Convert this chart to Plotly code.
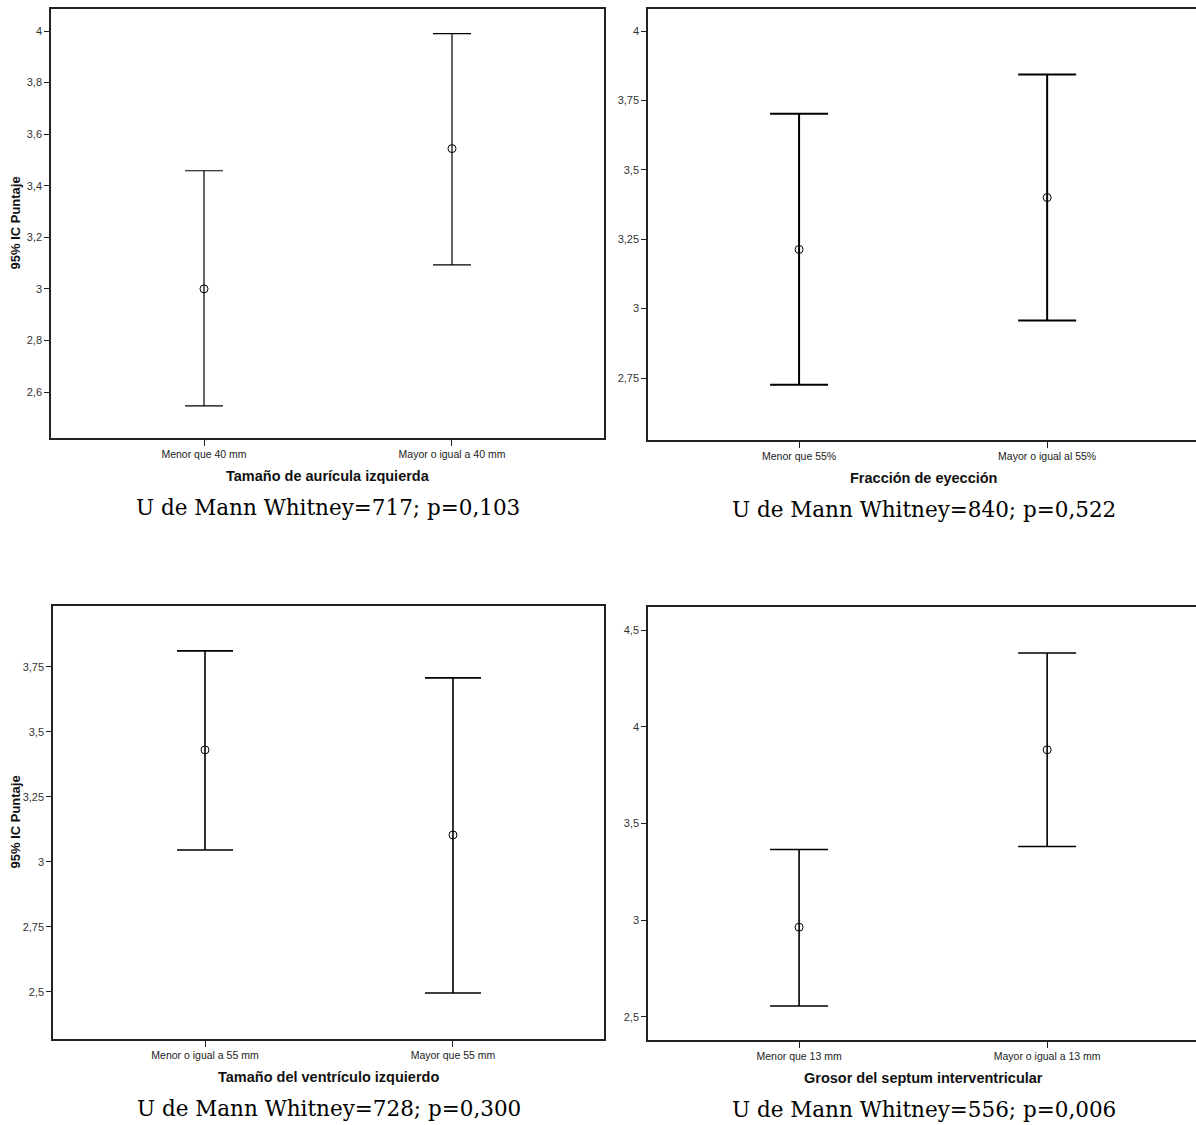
import plotly.graph_objects as go

# ---------------- data ----------------
cats_tl = ["Menor que 40 mm", "Mayor o igual a 40 mm"]
mean_tl = [3.000, 3.544]
upper_tl = [3.458, 3.990]
lower_tl = [2.546, 3.093]
ticks_tl = [2.6, 2.8, 3.0, 3.2, 3.4, 3.6, 3.8, 4.0]
ticklab_tl = ["2,6", "2,8", "3", "3,2", "3,4", "3,6", "3,8", "4"]

cats_tr = ["Menor que 55%", "Mayor o igual al 55%"]
mean_tr = [3.213, 3.400]
upper_tr = [3.702, 3.843]
lower_tr = [2.726, 2.957]
ticks_tr = [2.75, 3.0, 3.25, 3.5, 3.75, 4.0]
ticklab_tr = ["2,75", "3", "3,25", "3,5", "3,75", "4"]

cats_bl = ["Menor o igual a 55 mm", "Mayor que 55 mm"]
mean_bl = [3.431, 3.104]
upper_bl = [3.812, 3.708]
lower_bl = [3.046, 2.496]
ticks_bl = [2.5, 2.75, 3.0, 3.25, 3.5, 3.75]
ticklab_bl = ["2,5", "2,75", "3", "3,25", "3,5", "3,75"]

cats_br = ["Menor que 13 mm", "Mayor o igual a 13 mm"]
mean_br = [2.964, 3.881]
upper_br = [3.366, 4.381]
lower_br = [2.557, 3.381]
ticks_br = [2.5, 3.0, 3.5, 4.0, 4.5]
ticklab_br = ["2,5", "3", "3,5", "4", "4,5"]

xtitles = ["Tamaño de aurícula izquierda", "Fracción de eyección",
           "Tamaño del ventrículo izquierdo", "Grosor del septum interventricular"]
captions = ["U de Mann Whitney=717; p=0,103", "U de Mann Whitney=840; p=0,522",
            "U de Mann Whitney=728; p=0,300", "U de Mann Whitney=556; p=0,006"]
ytitle = "95% IC Puntaje"

# ---------------- layout geometry (pixels) ----------------
W, H = 1196, 1125
SANS = "Liberation Sans, Arial, sans-serif"
SERIF = "DejaVu Serif, serif"

def px_x(x):
    return x / W

def px_y(y):
    return 1 - y / H

panels = [
    (cats_tl, mean_tl, upper_tl, lower_tl, ticks_tl, ticklab_tl, (51, 604, 9, 438), [2.4216, 4.0853], [-0.617, 1.613], 19, 1.2, True),
    (cats_tr, mean_tr, upper_tr, lower_tr, ticks_tr, ticklab_tr, (648, 1196, 9, 440), [2.5267, 4.0793], [-0.609, 1.60], 29, 2.0, False),
    (cats_bl, mean_bl, upper_bl, lower_bl, ticks_bl, ticklab_bl, (53, 604, 606, 1039), [2.319, 3.9846], [-0.613, 1.609], 28, 1.6, True),
    (cats_br, mean_br, upper_br, lower_br, ticks_br, ticklab_br, (648, 1196, 607, 1040), [2.381, 4.619], [-0.609, 1.60], 29, 1.6, False),
]

fig = go.Figure()
layout = dict(
    width=W, height=H,
    margin=dict(l=0, r=0, t=0, b=0),
    paper_bgcolor="white", plot_bgcolor="white",
    showlegend=False,
    annotations=[],
)

for i, (cats, mean, up, lo, tv, tt, box, yr, xr, capw, thick, rborder) in enumerate(panels):
    n = i + 1
    xa = "x" if n == 1 else f"x{n}"
    ya = "y" if n == 1 else f"y{n}"
    plus = [u - m for u, m in zip(up, mean)]
    minus = [m - l for m, l in zip(mean, lo)]
    fig.add_trace(go.Scatter(
        x=cats, y=mean, mode="markers", xaxis=xa, yaxis=ya,
        marker=dict(symbol="circle-open", size=8, color="black", line=dict(width=1)),
        error_y=dict(type="data", array=plus, arrayminus=minus, visible=True,
                     color="black", thickness=thick, width=capw),
        hoverinfo="skip",
    ))
    x0, x1, y0, y1 = box
    xkey = "xaxis" if n == 1 else f"xaxis{n}"
    ykey = "yaxis" if n == 1 else f"yaxis{n}"
    layout[xkey] = dict(
        domain=[px_x(x0), min(1.0, px_x(x1))], anchor=ya, type="category",
        range=xr, showgrid=False, zeroline=False,
        showline=True, linecolor="#222", linewidth=1.5, mirror=True,
        ticks="outside", ticklen=6, tickcolor="#222", tickwidth=1,
        tickfont=dict(family=SANS, size=10.5, color="#222"),
        fixedrange=True,
    )
    layout[ykey] = dict(
        domain=[px_y(y1), px_y(y0)], anchor=xa, range=yr,
        showgrid=False, zeroline=False,
        showline=True, linecolor="#222", linewidth=1.5, mirror=rborder,
        tickmode="array", tickvals=tv, ticktext=tt,
        ticks="outside", ticklen=5, tickcolor="#222", tickwidth=1,
        tickfont=dict(family=SANS, size=11, color="#333"),
        fixedrange=True,
    )
    cx = (x0 + (x1 if rborder else 1199)) / 2
    layout["annotations"].append(dict(
        text=f"<b>{xtitles[i]}</b>", xref="paper", yref="paper",
        x=px_x(cx), y=px_y(y1 + 38), xanchor="center", yanchor="middle",
        showarrow=False, font=dict(family=SANS, size=14.5, color="#111")))
    layout["annotations"].append(dict(
        text=captions[i], xref="paper", yref="paper",
        x=px_x(cx), y=px_y(y1 + 69), xanchor="center", yanchor="middle",
        showarrow=False, font=dict(family=SERIF, size=21.5, color="#000")))
    if i in (0, 2):
        layout["annotations"].append(dict(
            text=f"<b>{ytitle}</b>", xref="paper", yref="paper",
            x=px_x(15), y=px_y((y0 + y1) / 2), xanchor="center", yanchor="middle",
            textangle=-90, showarrow=False, font=dict(family=SANS, size=13, color="#111")))

fig.update_layout(**layout)
fig.write_html("out.html", config={"displayModeBar": False},
               post_script="document.body.style.margin='0';document.body.style.padding='0';")
